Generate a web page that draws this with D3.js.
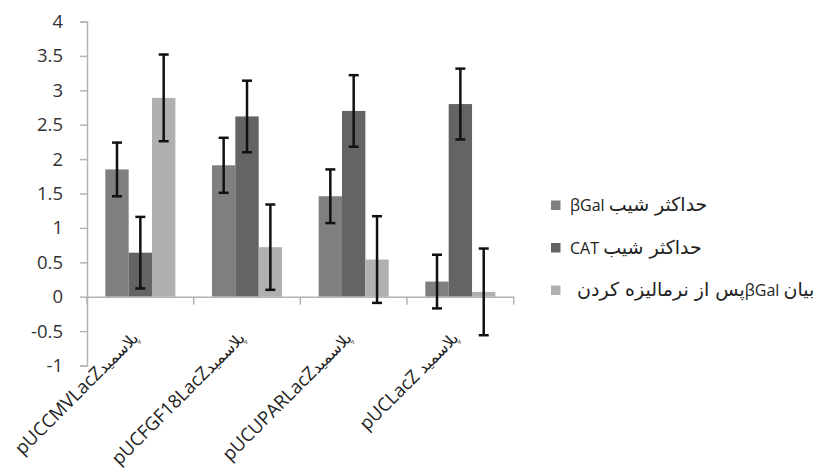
<!DOCTYPE html>
<html>
<head>
<meta charset="utf-8">
<script src="https://cdn.jsdelivr.net/npm/d3@7"></script>
<style>
  body { margin: 0; background: #fff; }
  svg { display: block; }
</style>
</head>
<body>
<div id="chart"></div>
<script>
// Data
const categories = [
  "pUCCMVLacZپلاسمید",
  "pUCFGF18LacZپلاسمید",
  "pUCUPARLacZپلاسمید",
  "pUCLacZ پلاسمید"
];
const seriesNames = [
  "حداکثر شیب βGal",
  "حداکثر شیب CAT",
  "بیان βGalپس از نرمالیزه کردن"
];
const slopeGal = [1.85, 1.91, 1.46, 0.22];
const slopeGalErr = [0.39, 0.4, 0.39, 0.39];
const slopeCat = [0.64, 2.62, 2.7, 2.8];
const slopeCatErr = [0.52, 0.52, 0.52, 0.515];
const normGal = [2.89, 0.72, 0.54, 0.07];
const normGalErr = [0.63, 0.62, 0.63, 0.63];
const yTicks = [-1, -0.5, 0, 0.5, 1, 1.5, 2, 2.5, 3, 3.5, 4];

const w = 819;
const h = 474;
const colors = ["#7f7f7f", "#646464", "#b0b0b0"];
const axisColor = "#b4b4b4";
const latinFont = "'Open Sans', sans-serif";
const arabicFont = "'DejaVu Sans', sans-serif";

const values = [slopeGal, slopeCat, normGal];
const errors = [slopeGalErr, slopeCatErr, normGalErr];

// split a label into arabic / latin runs so each can get its own size
const runs = (s) => s.match(/[\u0600-\u06FF]+(?:\s+[\u0600-\u06FF]+)*|[^\u0600-\u06FF]+/g);
const isArabic = (s) => /[\u0600-\u06FF]/.test(s);

const svg = d3
  .select("#chart")
  .append("svg")
  .attr("width", w)
  .attr("height", h)
  .style("font-family", latinFont);

// scales
const yScale = d3.scaleLinear().domain([-1, 4]).range([365.5, 21.5]);
const x0 = d3.scaleBand().domain(categories).range([87, 513.7]);
const x1 = d3
  .scaleBand()
  .domain([0, 1, 2])
  .range([18.3, x0.bandwidth() - 18.3]);

// y axis
const yAxis = d3
  .axisLeft(yScale)
  .tickValues(yTicks)
  .tickSize(7)
  .tickPadding(17)
  .tickFormat((d) => d);
const gy = svg.append("g").attr("transform", "translate(87,0)").call(yAxis);
gy.select(".domain").attr("stroke", axisColor).attr("stroke-width", 1.5);
gy.selectAll(".tick line").attr("stroke", axisColor).attr("stroke-width", 1.5);
gy.selectAll(".tick text")
  .attr("fill", "#333")
  .style("font-family", latinFont)
  .style("font-size", "18.5px");

// bars
const rows = [];
categories.forEach((c, i) => {
  values.forEach((s, j) => {
    rows.push({ cat: c, s: j, v: s[i], e: errors[j][i] });
  });
});

svg
  .selectAll("rect.bar")
  .data(rows)
  .enter()
  .append("rect")
  .attr("class", "bar")
  .attr("x", (d) => x0(d.cat) + x1(d.s))
  .attr("y", (d) => yScale(Math.max(0, d.v)))
  .attr("width", x1.bandwidth())
  .attr("height", (d) => Math.abs(yScale(d.v) - yScale(0)))
  .attr("fill", (d) => colors[d.s]);

// x axis (line at zero with ticks between categories)
const xAxis = d3.axisBottom(x0).tickSize(0).tickFormat("");
const gx = svg
  .append("g")
  .attr("transform", `translate(0, ${yScale(0)})`)
  .call(xAxis);
gx.select(".domain").attr("stroke", axisColor).attr("stroke-width", 1.5);
gx.selectAll(".sep")
  .data(categories.concat(["end"]))
  .enter()
  .append("line")
  .attr("class", "sep")
  .attr("x1", (d, i) => (i < categories.length ? x0(d) : x0.range()[1]))
  .attr("x2", (d, i) => (i < categories.length ? x0(d) : x0.range()[1]))
  .attr("y1", 0)
  .attr("y2", 8)
  .attr("stroke", axisColor)
  .attr("stroke-width", 1.5);

// x labels, rotated
const xlab = svg
  .selectAll("text.xlab")
  .data(categories)
  .enter()
  .append("text")
  .attr("class", "xlab")
  .attr(
    "transform",
    (d) => `translate(${x0(d) + x0.bandwidth() / 2 - 1}, 339) rotate(-45)`
  )
  .attr("text-anchor", "end")
  .attr("fill", "#222");
xlab
  .selectAll("tspan")
  .data((d) => runs(d))
  .enter()
  .append("tspan")
  .style("font-family", (r) => (isArabic(r) ? arabicFont : latinFont))
  .style("font-size", (r) => (isArabic(r) ? "16px" : "18.5px"))
  .text((r) => r);

// error bars
const err = svg
  .selectAll("g.err")
  .data(rows)
  .enter()
  .append("g")
  .attr("class", "err")
  .attr("stroke", "#111")
  .attr("stroke-width", 2.5);
const cx = (d) => x0(d.cat) + x1(d.s) + x1.bandwidth() / 2;
err
  .append("line")
  .attr("x1", cx)
  .attr("x2", cx)
  .attr("y1", (d) => yScale(d.v + d.e))
  .attr("y2", (d) => yScale(d.v - d.e));
err
  .append("line")
  .attr("x1", (d) => cx(d) - 5)
  .attr("x2", (d) => cx(d) + 5)
  .attr("y1", (d) => yScale(d.v + d.e))
  .attr("y2", (d) => yScale(d.v + d.e));
err
  .append("line")
  .attr("x1", (d) => cx(d) - 5)
  .attr("x2", (d) => cx(d) + 5)
  .attr("y1", (d) => yScale(d.v - d.e))
  .attr("y2", (d) => yScale(d.v - d.e));

// legend
const legend = svg
  .selectAll("g.legend")
  .data(seriesNames)
  .enter()
  .append("g")
  .attr("class", "legend")
  .attr("transform", (d, i) => `translate(551, ${205.5 + i * 42.5})`);
legend
  .append("rect")
  .attr("x", 0)
  .attr("y", -5)
  .attr("width", 9.5)
  .attr("height", 9.5)
  .attr("fill", (d, i) => colors[i]);
const ltext = legend
  .append("text")
  .attr("x", (d, i) => (i === 2 ? 26 : 19))
  .attr("y", 5.5)
  .attr("direction", "rtl")
  .attr("text-anchor", "end")
  .attr("fill", "#222");
ltext
  .selectAll("tspan")
  .data((d) => runs(d))
  .enter()
  .append("tspan")
  .style("font-family", (r) => (isArabic(r) ? arabicFont : latinFont))
  .style("font-size", (r) => (isArabic(r) ? "19px" : "16px"))
  .text((r) => r);
</script>
</body>
</html>
